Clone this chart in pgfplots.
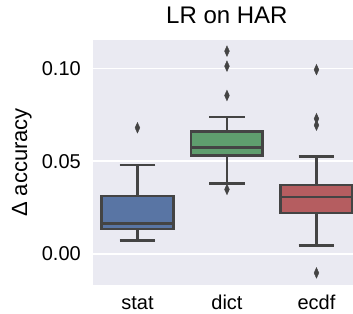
\documentclass[border=0pt]{standalone}
\usepackage{fontspec}
\setmainfont{Liberation Sans}
\usepackage{pgfplots}
\pgfplotsset{compat=1.18}
\usepgfplotslibrary{statistics}
\definecolor{bgc}{HTML}{EAEAF2}
\definecolor{lc}{HTML}{444444}
\definecolor{cstat}{HTML}{5975A4}
\definecolor{cdict}{HTML}{5F9E6E}
\definecolor{cecdf}{HTML}{B55D60}
\begin{document}
\begin{tikzpicture}
\path[use as bounding box] (0,0) rectangle (353pt,313pt);
\begin{axis}[
  at={(92.7pt,28pt)}, anchor=south west,
  scale only axis, width=260.3pt, height=245pt,
  xmin=-0.5, xmax=2.408, ymin=-0.0167, ymax=0.1153,
  clip=false,
  axis background/.style={fill=bgc},
  axis line style={draw=none},
  major tick length=0pt,
  xtick={0,1,2}, xticklabels={stat,dict,ecdf},
  ytick={0,0.05,0.10},
  yticklabel style={/pgf/number format/fixed, /pgf/number format/fixed zerofill, /pgf/number format/precision=2, /pgf/number format/assume math mode=true, font=\fontsize{20}{24}\selectfont, inner sep=0pt, anchor=east, xshift=-11.7pt},
  scaled y ticks=false,
  xticklabel style={font=\fontsize{20}{24}\selectfont, inner sep=0pt, anchor=base, yshift=-24.5pt},
  ymajorgrids, major grid style={white, line width=1.7pt},
  ylabel={Δ accuracy},
  ylabel style={at={(rel axis cs:0,0.5)}, anchor=north, font=\fontsize{22}{26}\selectfont, inner sep=0pt, yshift=81pt},
  title={LR on HAR},
  title style={at={(rel axis cs:0.5155,1)}, anchor=base, yshift=10pt, font=\fontsize{24}{28}\selectfont, inner sep=0pt},
  boxplot/draw direction=y,
  boxplot/box extend=0.8,
  boxplot/whisker extend=0.4,
  boxplot/every box/.style={line width=2.6pt, draw=lc},
  boxplot/every whisker/.style={line width=2.6pt, draw=lc},
  boxplot/every median/.style={line width=2.6pt, draw=lc},
]
\addplot[fill=cstat, draw=lc, mark=diamond*, mark size=5.3pt, mark options={xscale=0.6, fill=lc, draw=lc, line width=0.4pt}, boxplot prepared={draw position=0, lower whisker=0.0074, lower quartile=0.0135, median=0.0165, upper quartile=0.0312, upper whisker=0.0479}] table[row sep=\\, y index=0] {0.068\\};
\addplot[fill=cdict, draw=lc, mark=diamond*, mark size=5.3pt, mark options={xscale=0.6, fill=lc, draw=lc, line width=0.4pt}, boxplot prepared={draw position=1, lower whisker=0.0379, lower quartile=0.0531, median=0.0574, upper quartile=0.0659, upper whisker=0.0738}] table[row sep=\\, y index=0] {0.1093\\ 0.1012\\ 0.0854\\ 0.0348\\};
\addplot[fill=cecdf, draw=lc, mark=diamond*, mark size=5.3pt, mark options={xscale=0.6, fill=lc, draw=lc, line width=0.4pt}, boxplot prepared={draw position=2, lower whisker=0.0047, lower quartile=0.0221, median=0.0307, upper quartile=0.0372, upper whisker=0.0526}] table[row sep=\\, y index=0] {0.0993\\ 0.0729\\ 0.0694\\ -0.0102\\};
\end{axis}
\end{tikzpicture}
\end{document}
